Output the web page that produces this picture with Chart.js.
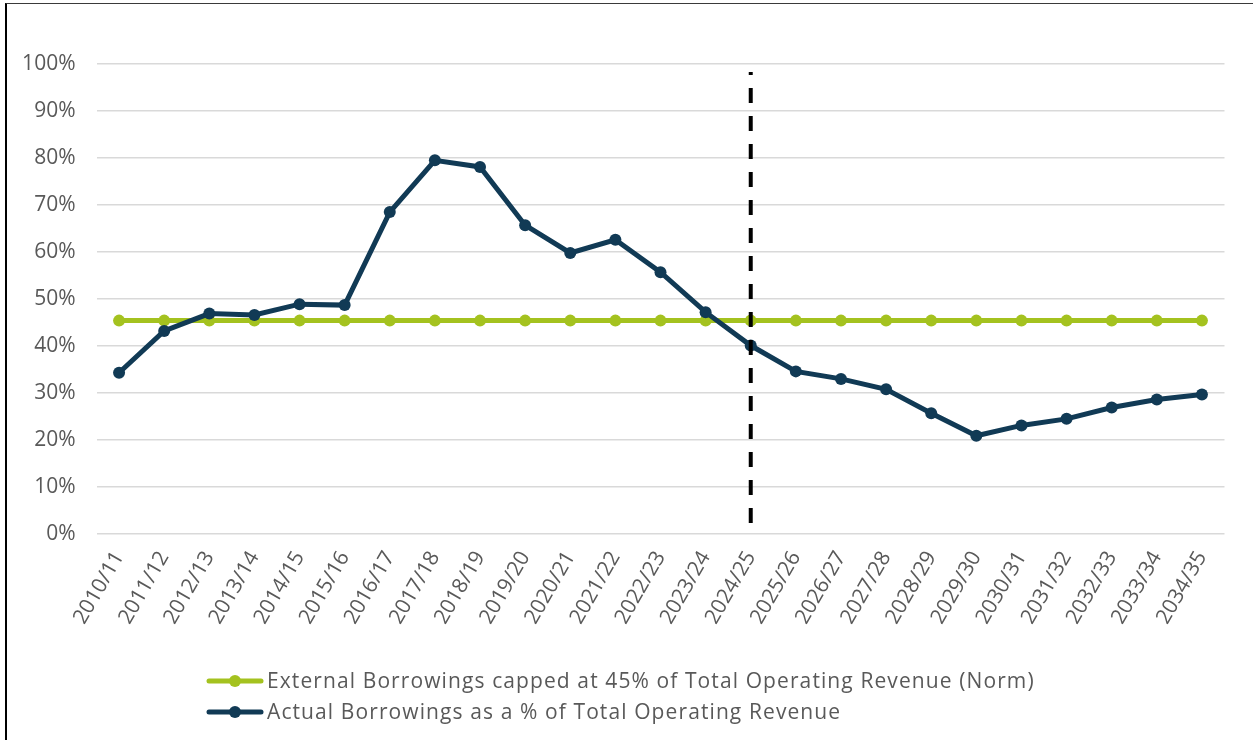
<!DOCTYPE html>
<html>
<head>
<meta charset="utf-8">
<title>Borrowings vs Total Operating Revenue</title>
<script src="https://cdn.jsdelivr.net/npm/chart.js@4/dist/chart.umd.min.js"></script>
<style>
    html, body { margin: 0; padding: 0; background: #fff; overflow: hidden; }
    .frame {
        position: absolute; left: 5px; top: 3px; width: 1260px; height: 800px;
        border-left: 2.5px solid #000; border-top: 1.5px solid #3a3a3a;
        pointer-events: none;
    }
    #borrowChart { display: block; }
</style>
</head>
<body>
<canvas id="borrowChart" width="1253" height="740"></canvas>
<div class="frame"></div>
<script>
// Financial years on the x axis
const years = ['2010/11', '2011/12', '2012/13', '2013/14', '2014/15', '2015/16', '2016/17',
    '2017/18', '2018/19', '2019/20', '2020/21', '2021/22', '2022/23', '2023/24', '2024/25',
    '2025/26', '2026/27', '2027/28', '2028/29', '2029/30', '2030/31', '2031/32', '2032/33',
    '2033/34', '2034/35'];

// Norm: external borrowings capped at 45% of revenue
const normValues = [45.4, 45.4, 45.4, 45.4, 45.4, 45.4, 45.4, 45.4, 45.4, 45.4, 45.4, 45.4, 45.4,
    45.4, 45.4, 45.4, 45.4, 45.4, 45.4, 45.4, 45.4, 45.4, 45.4, 45.4, 45.4];

// Actual borrowings as % of total operating revenue
const actualValues = [34.3, 43.2, 46.9, 46.6, 48.9, 48.7, 68.5, 79.5, 78.1, 65.7, 59.8, 62.6, 55.7,
    47.2, 40.1, 34.6, 33.0, 30.8, 25.7, 20.9, 23.1, 24.5, 26.9, 28.6, 29.7];

// Vertical divider between history and forecast
const dividerYear = '2024/25';
const dividerRange = [98.3, 2.3];

const seriesLabels = [
    'External Borrowings capped at 45% of Total Operating Revenue (Norm)',
    'Actual Borrowings as a % of Total Operating Revenue'
];
const yTicks = [0, 10, 20, 30, 40, 50, 60, 70, 80, 90, 100];

const FONT = '"Open Sans", sans-serif';
const GREEN = '#a4c21f';
const NAVY = '#113a55';
const TEXT = '#595959';

// draws the two-row legend under the axis labels
const legendPlugin = {
    id: 'rowLegend',
    afterDraw(chart) {
        const ctx = chart.ctx;
        const rows = [681, 712];
        ctx.save();
        ctx.font = '21px ' + FONT;
        ctx.letterSpacing = '1.1px';
        ctx.textBaseline = 'middle';
        for (let i = 0; i < 2; i++) {
            const ds = chart.data.datasets[i];
            const y = rows[i];
            ctx.strokeStyle = ds.borderColor;
            ctx.lineWidth = 5;
            ctx.lineCap = 'round';
            ctx.beginPath();
            ctx.moveTo(209, y);
            ctx.lineTo(261, y);
            ctx.stroke();
            ctx.fillStyle = ds.borderColor;
            ctx.beginPath();
            ctx.arc(235, y, 6, 0, Math.PI * 2);
            ctx.fill();
            ctx.fillStyle = TEXT;
            ctx.fillText(ds.label, 267, y + 1);
        }
        ctx.restore();
    }
};

document.addEventListener('DOMContentLoaded', function() {
    const ctx = document.getElementById('borrowChart').getContext('2d');

    window.borrowChart = new Chart(ctx, {
        type: 'line',
        data: {
            labels: years,
            datasets: [
                {
                    label: seriesLabels[0],
                    data: normValues,
                    borderColor: GREEN,
                    backgroundColor: GREEN,
                    borderWidth: 5,
                    pointRadius: 6,
                    pointBorderWidth: 0,
                    tension: 0,
                    order: 2
                },
                {
                    label: seriesLabels[1],
                    data: actualValues,
                    borderColor: NAVY,
                    backgroundColor: NAVY,
                    borderWidth: 5,
                    pointRadius: 6,
                    pointBorderWidth: 0,
                    tension: 0,
                    order: 1
                },
                {
                    label: 'divider',
                    data: [{ x: dividerYear, y: dividerRange[0] }, { x: dividerYear, y: dividerRange[1] }],
                    borderColor: '#000',
                    borderWidth: 4,
                    borderDash: [15, 13],
                    borderDashOffset: 12,
                    borderCapStyle: 'butt',
                    pointRadius: 0,
                    order: 0
                }
            ]
        },
        options: {
            responsive: false,
            animation: false,
            layout: { padding: { top: 64, right: 28.5, bottom: 0, left: 0 } },
            plugins: {
                legend: { display: false },
                tooltip: { enabled: false }
            },
            scales: {
                x: {
                    offset: true,
                    grid: { display: false },
                    border: { display: false },
                    ticks: {
                        color: TEXT,
                        font: { family: FONT, size: 21 },
                        minRotation: 60,
                        maxRotation: 60,
                        autoSkip: false,
                        padding: 5
                    },
                    afterFit(scale) { scale.height = 206; }
                },
                y: {
                    min: 0,
                    max: 100,
                    afterBuildTicks(scale) { scale.ticks = yTicks.map(v => ({ value: v })); },
                    grid: { color: '#d9d9d9', lineWidth: 1.5, drawTicks: false },
                    border: { display: false },
                    ticks: {
                        color: TEXT,
                        font: { family: FONT, size: 21 },
                        padding: 21,
                        callback: v => v + '%'
                    },
                    afterFit(scale) { scale.width = 96.5; }
                }
            }
        },
        plugins: [legendPlugin]
    });
});
</script>
</body>
</html>
